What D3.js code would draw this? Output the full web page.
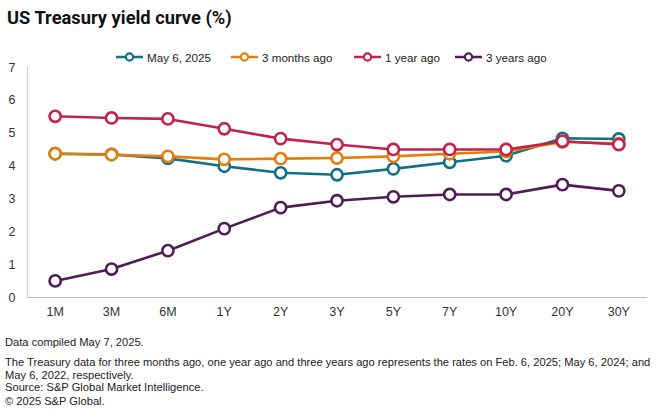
<!DOCTYPE html>
<html><head><meta charset="utf-8">
<script src="https://cdn.jsdelivr.net/npm/d3@7"></script>
<style>
body{margin:0;background:#fff;}
text{font-family:"Liberation Sans",Arial,sans-serif;}
</style>
</head><body>
<svg id="c" width="660" height="418"></svg>
<script>
const categories = ["1M","3M","6M","1Y","2Y","3Y","5Y","7Y","10Y","20Y","30Y"];
const seriesNames = ["May 6, 2025","3 months ago","1 year ago","3 years ago"];
const seriesColors = ["#0f7088","#e47e0b","#c2224f","#511b57"];
const may2025 = [4.36,4.34,4.22,3.98,3.78,3.72,3.90,4.10,4.30,4.83,4.81];
const threeMonths = [4.36,4.33,4.28,4.19,4.21,4.23,4.28,4.36,4.43,4.72,4.67];
const oneYear = [5.50,5.45,5.42,5.12,4.82,4.64,4.49,4.49,4.49,4.74,4.64];
const threeYears = [0.49,0.85,1.41,2.08,2.72,2.93,3.05,3.12,3.12,3.42,3.23];
const yTicks = [0,1,2,3,4,5,6,7];
const seriesValues = [may2025, threeMonths, oneYear, threeYears];

(function(){
const svg = d3.select("#c");
const pL = 27, pR = 647, pT = 67, pB = 297;
const x = d3.scalePoint().domain(categories).range([pL, pR]).padding(0.5);
const y = d3.scaleLinear().domain([0,7]).range([pB, pT]);

function fit(sel, target){
  const w = sel.node().getComputedTextLength();
  const fs = parseFloat(sel.attr("font-size"));
  sel.attr("font-size", (fs*target/w).toFixed(2));
}

const title = svg.append("text").attr("x",7).attr("y",24).text("US Treasury yield curve (%)")
  .style("font-family","Roboto, 'Liberation Sans', sans-serif")
  .attr("font-size",18).attr("font-weight","bold").attr("fill","#111");
fit(title, 225);

// legend
const legX = [116, 231, 354, 455];
seriesNames.forEach((n,i)=>{
  const g = svg.append("g").attr("transform",`translate(${legX[i]},57)`);
  g.append("line").attr("x1",0).attr("x2",27).attr("y1",0).attr("y2",0)
    .attr("stroke",seriesColors[i]).attr("stroke-width",2.5);
  g.append("circle").attr("cx",13.5).attr("cy",0).attr("r",3.6)
    .attr("fill","#fff").attr("stroke",seriesColors[i]).attr("stroke-width",2.2);
  const t = g.append("text").attr("x",31).attr("y",4.5).text(n)
    .attr("font-size",13).attr("fill","#222");
  if(i===0) fit(t,64);
  else t.attr("font-size", g.node().parentNode.querySelector("g text").getAttribute("font-size"));
});

// axes
svg.append("line").attr("x1",pL+0.5).attr("x2",pL+0.5).attr("y1",pT).attr("y2",pB)
  .attr("stroke","#d0d0d0").attr("stroke-width",1);
svg.append("line").attr("x1",pL).attr("x2",pR).attr("y1",pB+0.5).attr("y2",pB+0.5)
  .attr("stroke","#bdbdbd").attr("stroke-width",1);

svg.selectAll(".yt").data(yTicks).enter().append("text")
  .attr("x",12).attr("y",d=>y(d)+4.5).attr("text-anchor","middle")
  .attr("font-size",12.5).attr("fill","#333").text(d=>d);

svg.selectAll(".xt").data(categories).enter().append("text")
  .attr("x",d=>x(d)).attr("y",316).attr("text-anchor","middle")
  .attr("font-size",12.5).attr("fill","#333").text(d=>d);

const line = d3.line().x((d,i)=>x(categories[i])).y(d=>y(d));
seriesValues.forEach((vals,si)=>{
  svg.append("path").datum(vals).attr("d",line).attr("fill","none")
    .attr("stroke",seriesColors[si]).attr("stroke-width",2.6).attr("stroke-linejoin","round");
  svg.selectAll(".pt"+si).data(vals).enter().append("circle")
    .attr("cx",(d,i)=>x(categories[i])).attr("cy",d=>y(d)).attr("r",5.6)
    .attr("fill","#fff").attr("stroke",seriesColors[si]).attr("stroke-width",2.6);
});

const foot = [
  [346,"Data compiled May 7, 2025."],
  [366,"The Treasury data for three months ago, one year ago and three years ago represents the rates on Feb. 6, 2025; May 6, 2024; and"],
  [379,"May 6, 2022, respectively."],
  [391,"Source: S&P Global Market Intelligence."],
  [405,"\u00a9 2025 S&P Global."]
];
const ft = foot.map(f=> svg.append("text").attr("x",5).attr("y",f[0]).text(f[1])
    .attr("font-size",11).attr("fill","#222"));
fit(ft[1], 646);
const fs = ft[1].attr("font-size");
ft.forEach(t=>t.attr("font-size",fs));
})();
</script>
</body></html>
